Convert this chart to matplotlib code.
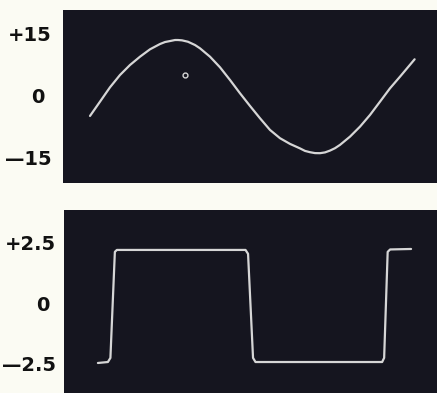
import matplotlib
matplotlib.use("Agg")
import matplotlib.pyplot as plt
import matplotlib.transforms as mtransforms

# ---- data (phase in degrees) ----
sine_phase = [-26, -13, 0, 13, 26, 39, 52, 65, 71.5, 78, 84.5, 88.4, 93.6, 101.4,
              110.5, 117, 130, 143, 156, 169, 182, 195, 208, 221, 234, 247,
              253.5, 260, 266.5, 273, 279.5, 286, 292.5, 299, 312, 325,
              338, 351, 364, 377, 396]
sine_value = [-4.96, -1.50, 1.98, 4.96, 7.38, 9.39, 11.18, 12.46, 12.94, 13.18,
              13.43, 13.43, 13.35, 13.01, 12.22, 11.42, 9.39, 6.82, 3.75, 0.53,
              -2.54, -5.52, -8.35, -10.35, -11.73, -12.82, -13.43, -13.74,
              -13.96, -13.98, -13.79, -13.35, -12.77, -11.97, -9.97, -7.55,
              -4.72, -1.50, 1.74, 4.55, 8.76]
marker_phase = [97.5]
marker_value = [4.96]

square_phase = [-16.9, -3.9, -0.6, 5.2, 7.8, 175.5, 178.8, 185.3, 188.5,
                353.6, 356.2, 360.8, 364.0, 391.3]
square_value = [-2.46, -2.42, -2.25, 2.13, 2.21, 2.21, 2.05, -2.25, -2.42,
                -2.42, -2.25, 2.13, 2.23, 2.25]

top_ticks = [15, 0, -15]
top_labels = ["+15", "0", "\u201415"]
bot_ticks = [2.5, 0, -2.5]
bot_labels = ["+2.5", "0", "\u20142.5"]

W, H = 437, 393
BG = "#fbfbf3"
SCREEN = "#15151f"
TRACE = "#d6d6d6"

fig = plt.figure(figsize=(W / 100, H / 100), dpi=100, facecolor=BG)

def px_axes(left, top, right, bottom):
    return fig.add_axes([left / W, 1 - bottom / H, (right - left) / W, (bottom - top) / H])

ax1 = px_axes(63, 10, 437, 183)
ax2 = px_axes(64, 210, 437, 393)

xlim = ((63 - 110) * 1.3, (437 - 110) * 1.3)

for ax in (ax1, ax2):
    ax.set_facecolor(SCREEN)
    for s in ax.spines.values():
        s.set_visible(False)
    ax.set_xticks([])
    ax.set_xlim(*xlim)
    ax.tick_params(axis="y", length=0)

ax1.plot(sine_phase, sine_value, color=TRACE, lw=1.6, solid_capstyle="round",
         solid_joinstyle="round")
ax1.plot(marker_phase, marker_value, "o", ms=3.5, mfc="none", mec=TRACE, mew=1.0)
ax1.set_ylim(-21.2, 20.7)
ax1.set_yticks(top_ticks)
ax1.set_yticklabels(top_labels, fontsize=14, fontweight="bold", color="#111111")
ax1.tick_params(axis="y", pad=8)

ax2.plot(square_phase, square_value, color=TRACE, lw=1.6, solid_capstyle="round",
         solid_joinstyle="round")
ax2.set_ylim(-3.70, 3.86)
ax2.set_yticks(bot_ticks)
ax2.set_yticklabels(bot_labels, fontsize=14, fontweight="bold", color="#111111")
ax2.tick_params(axis="y", pad=6)

for ax, shift in ((ax1, -7), (ax2, -6)):
    for lbl in ax.get_yticklabels():
        if lbl.get_text() == "0":
            off = mtransforms.ScaledTranslation(shift / 100, 0, fig.dpi_scale_trans)
            lbl.set_transform(lbl.get_transform() + off)

fig.savefig("out.png", dpi=100, facecolor=BG)
